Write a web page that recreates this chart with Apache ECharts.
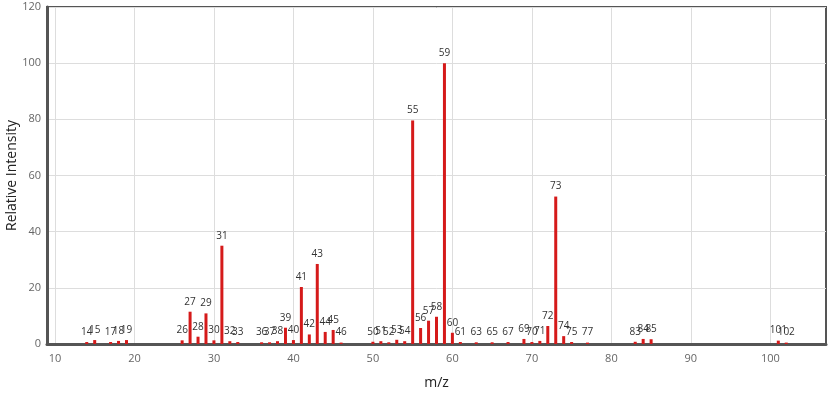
<!DOCTYPE html>
<html>
<head>
<meta charset="utf-8">
<script src="https://cdn.jsdelivr.net/npm/echarts@6/dist/echarts.min.js"></script>
<style>
html,body{margin:0;padding:0;background:#fff;}
#chart{width:831px;height:396px;}
</style>
</head>
<body>
<div id="chart"></div>
<script>
// m/z values and relative intensities
var mzValues = [14, 15, 17, 18, 19, 26, 27, 28, 29, 30, 31, 32, 33,
  36, 37, 38, 39, 40, 41, 42, 43, 44, 45, 46,
  50, 51, 52, 53, 54, 55, 56, 57, 58, 59, 60, 61,
  63, 65, 67, 69, 70, 71, 72, 73, 74, 75, 77,
  83, 84, 85, 101, 102];
var intensities = [0.7, 1.4, 0.7, 1.1, 1.4, 1.3, 11.5, 2.6, 10.9, 1.3, 35.0, 1.0, 0.7,
  0.6, 0.6, 1.0, 5.8, 1.4, 20.3, 3.4, 28.5, 4.3, 5.0, 0.5,
  0.8, 1.0, 0.6, 1.5, 1.0, 79.6, 5.7, 8.3, 9.7, 100.0, 4.0, 0.7,
  0.6, 0.6, 0.7, 1.8, 0.7, 1.1, 6.4, 52.5, 2.8, 0.7, 0.5,
  0.8, 1.8, 1.7, 1.2, 0.5];
var xMin = 9, xMax = 107;
var xTickStep = 10;
var yTicks = [0, 20, 40, 60, 80, 100, 120];

var categories = [];
for (var m = xMin; m <= xMax; m++) categories.push(String(m));
var barData = categories.map(function () { return null; });
mzValues.forEach(function (mz, i) { barData[mz - xMin] = intensities[i]; });

var FONT = 'Open Sans, Liberation Sans, sans-serif';
var chart = echarts.init(document.getElementById('chart'));
chart.setOption({
  animation: false,
  backgroundColor: '#fff',
  grid: {
    left: 47, right: 5, top: 7, bottom: 52,
    containLabel: false,
    outerBoundsMode: 'none',
    show: true, borderColor: '#555', borderWidth: 2
  },
  xAxis: {
    type: 'category',
    data: categories,
    boundaryGap: false,
    name: 'm/z',
    nameLocation: 'middle',
    nameGap: 32,
    nameMoveOverlap: false,
    nameTextStyle: { fontFamily: FONT, fontSize: 14, color: '#222' },
    axisLine: { show: true, lineStyle: { color: '#555', width: 3 } },
    axisTick: { show: false },
    axisLabel: {
      interval: function (idx, val) { return Number(val) % xTickStep === 0; },
      fontFamily: FONT, fontSize: 11, color: '#666', margin: 9
    },
    splitLine: {
      show: true,
      interval: function (idx, val) { return Number(val) % xTickStep === 0; },
      lineStyle: { color: '#ddd', width: 1 }
    }
  },
  yAxis: {
    type: 'value',
    min: yTicks[0], max: yTicks[yTicks.length - 1], interval: yTicks[1] - yTicks[0],
    name: 'Relative Intensity',
    nameLocation: 'middle',
    nameGap: 28,
    nameMoveOverlap: false,
    nameTextStyle: { fontFamily: FONT, fontSize: 14, color: '#222' },
    axisLine: { show: true, lineStyle: { color: '#555', width: 3 } },
    axisTick: { show: false },
    axisLabel: { fontFamily: FONT, fontSize: 11, color: '#666', margin: 6 },
    splitLine: { show: true, lineStyle: { color: '#ddd', width: 1 } }
  },
  series: [{
    type: 'bar',
    data: barData,
    barWidth: 3,
    itemStyle: { color: '#d51a1a' },
    label: {
      show: true,
      position: 'top',
      distance: 5,
      fontFamily: FONT,
      fontSize: 10,
      color: '#333',
      formatter: function (p) { return p.name; }
    }
  }]
});
</script>
</body>
</html>
